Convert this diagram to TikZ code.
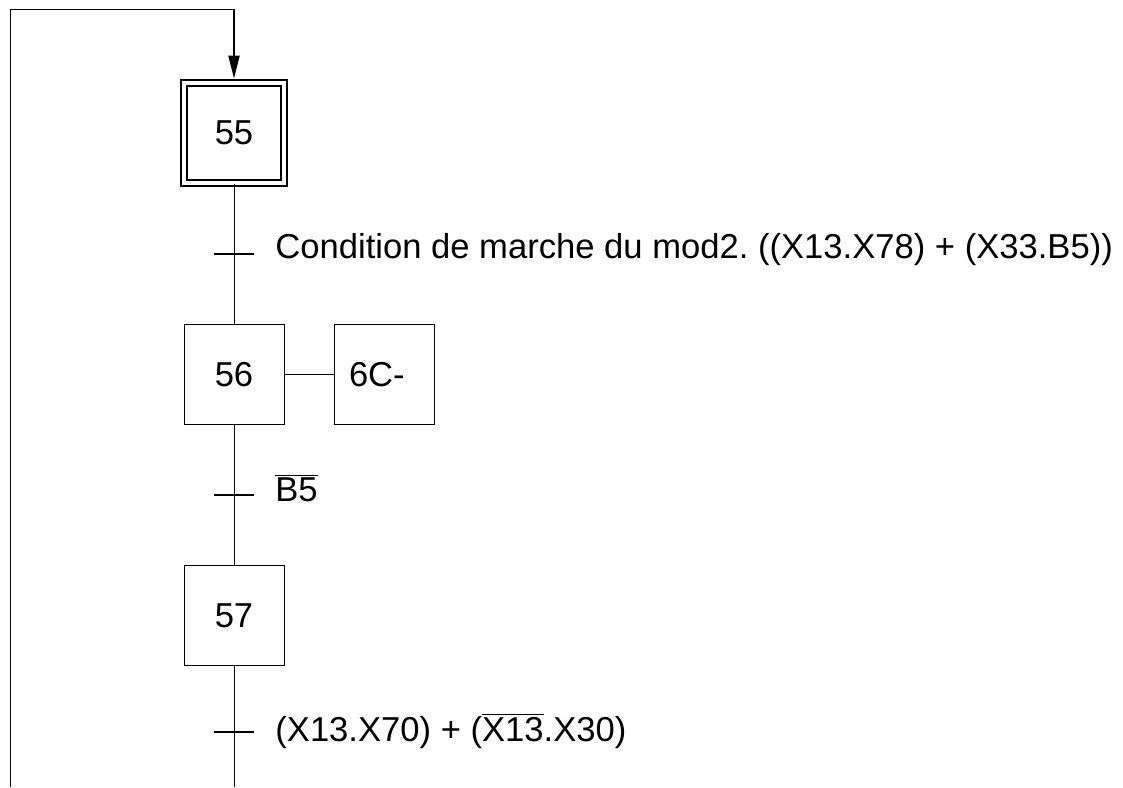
\documentclass[tikz,border=0pt]{standalone}
\usepackage{fontspec}
\setmainfont{Liberation Sans}
\usetikzlibrary{arrows.meta, positioning}
\newcommand{\nonbar}[1]{$\overline{\mbox{#1}}$}
\frenchspacing

\begin{document}
\begin{tikzpicture}[x=0.5pt,y=-0.5pt,>={Triangle[length=11.5pt,width=5.5pt]},
    node distance=70pt,
    every node/.style={font=\fontsize{17.3pt}{21pt}\selectfont},
    etape/.style={draw, line width=0.5pt, minimum size=50pt, inner sep=0pt},
    initiale/.style={etape, double, line width=0.8pt, double distance=2pt},
    action/.style={draw, line width=0.5pt, minimum height=50pt, text width=35pt, inner xsep=7.5pt, align=left},
    liaison/.style={line width=0.5pt},
    seuil/.style={line width=1pt},
    recept/.style={anchor=base west, inner sep=0pt}]

    \useasboundingbox (0,0) rectangle (1123,787);

    \node[initiale] (E55) at (234,133) {55};
    \node[etape, below=of E55] (E56) {56};
    \node[action, right=24.5pt of E56] (A56) {6C-};
    \node[etape, below=of E56] (E57) {57};

    % transitions
    \coordinate[below=35pt of E55] (T1);
    \coordinate[below=35pt of E56] (T2);
    \coordinate[below=33pt of E57] (T3);
    \draw[seuil] ([xshift=-10pt]T1) -- ([xshift=10pt]T1);
    \draw[seuil] ([xshift=-10pt]T2) -- ([xshift=10pt]T2);
    \draw[seuil] ([xshift=-10pt]T3) -- ([xshift=10pt]T3);
    \node[recept] (R1) at ([xshift=20.5pt,yshift=-2.5pt]T1) {Condition de marche du mod2. ((X13.X78) + (X33.B5))};
    \node[recept] (R2) at ([xshift=20.5pt,yshift=-3.5pt]T2) {\nonbar{B5}};
    \node[recept] (R3) at ([xshift=20.5pt,yshift=-5pt]T3) {(X13.X70) + (\nonbar{X13}.X30)};

    % liaisons et retour
    \coordinate[above=36.5pt of E55] (haut);
    \coordinate (retour) at (10,787);
    \coordinate (bas) at (E57.south |- retour);
    \draw[liaison] (E55) -- (E56) -- (E57) -- (bas);
    \draw[liaison] (E56) -- (A56);
    \draw[liaison] (retour) |- (haut);
    \draw[->, line width=1pt] (haut) -- ([yshift=1.8pt]E55.north);
  \end{tikzpicture}
\end{document}
